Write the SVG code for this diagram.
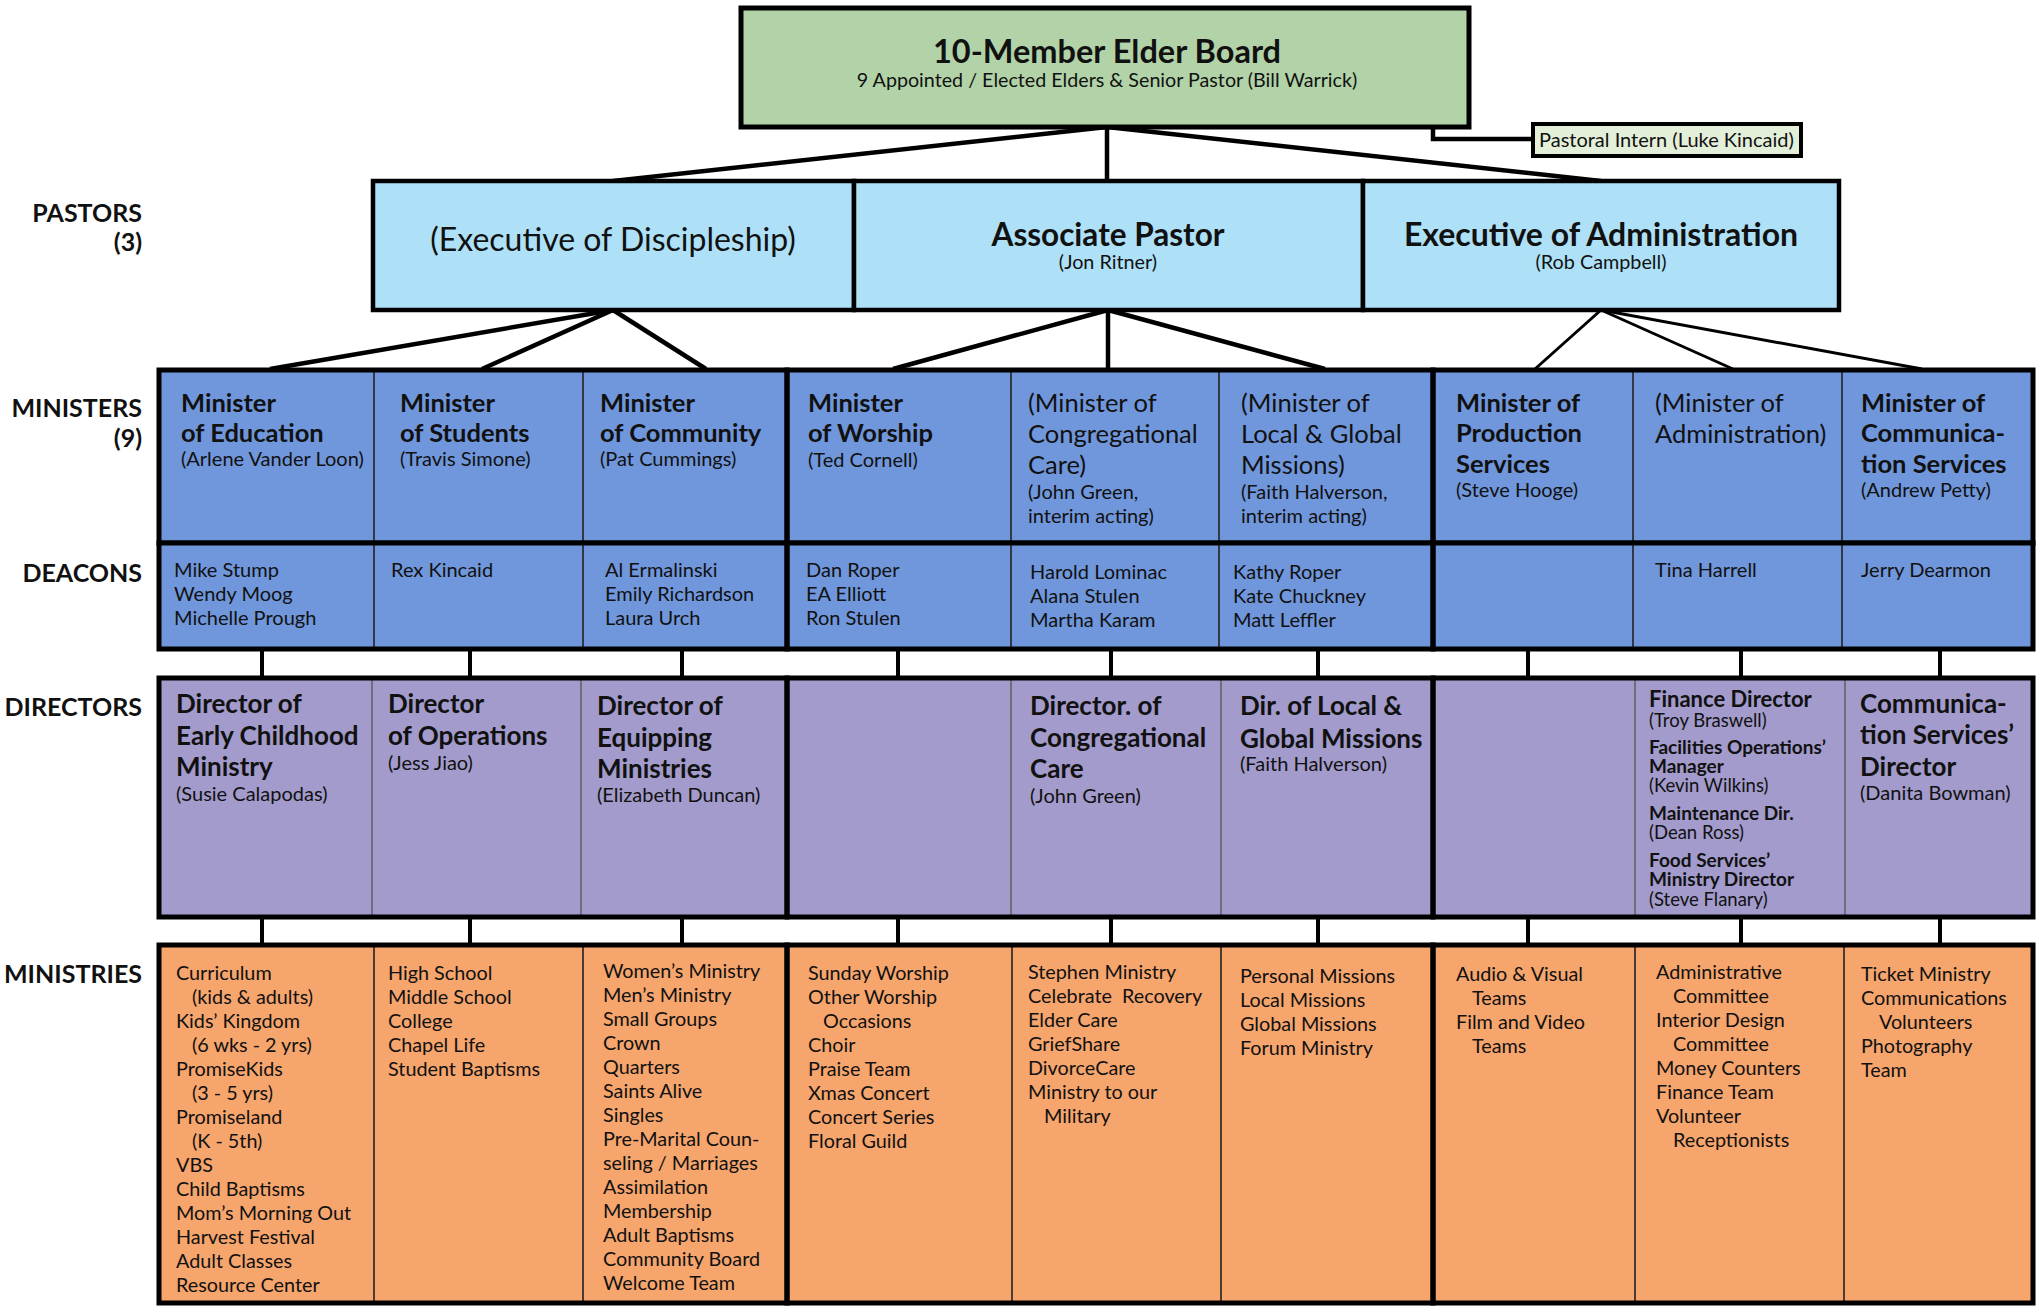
<svg xmlns="http://www.w3.org/2000/svg" width="2039" height="1307" viewBox="0 0 2039 1307">
<style>
text{font-family:Lato,"Open Sans","Liberation Sans",sans-serif;fill:#111}
.lbl{font-weight:bold;font-size:25px;text-anchor:end}
.b{font-weight:bold;font-size:25.5px}
.bd{font-weight:bold;font-size:26px}
.s{font-size:20px}
.r{font-size:25.5px}
.d{font-size:20px}
.m{font-size:19.8px}
.fb{font-weight:bold;font-size:19px}
.fs{font-size:18.5px}
.thick{fill:none;stroke:#000;stroke-width:5}
.thin{stroke:#222;stroke-width:1.6}
.thinD{stroke:#555;stroke-width:1.3}
.con{stroke:#000;stroke-width:4.5;fill:none}
.con2{stroke:#000;stroke-width:3;fill:none}
.tick{stroke:#000;stroke-width:4}
</style>
<rect width="2039" height="1307" fill="#fff"/>

<g id="row-labels">
<text class="lbl" x="142" y="222">PASTORS</text>
<text class="lbl" x="142" y="251">(3)</text>
<text class="lbl" x="142" y="417">MINISTERS</text>
<text class="lbl" x="142" y="447">(9)</text>
<text class="lbl" x="142" y="582">DEACONS</text>
<text class="lbl" x="142" y="716">DIRECTORS</text>
<text class="lbl" x="142" y="983">MINISTRIES</text>
</g>

<g id="connectors">
<line class="con" x1="1107" y1="127" x2="613" y2="181"/>
<line class="con" x1="1107" y1="127" x2="1107" y2="181"/>
<line class="con" x1="1107" y1="127" x2="1601" y2="181"/>
<polyline class="con" points="1433,127 1433,139 1533,139"/>
<line class="con" x1="613" y1="310" x2="270" y2="369"/>
<line class="con" x1="613" y1="310" x2="482" y2="369"/>
<line class="con" x1="613" y1="310" x2="706" y2="369"/>
<line class="con" x1="1108" y1="310" x2="893" y2="369"/>
<line class="con" x1="1108" y1="310" x2="1108" y2="369"/>
<line class="con" x1="1108" y1="310" x2="1325" y2="369"/>
<line class="con2" x1="1601" y1="310" x2="1535" y2="369"/>
<line class="con2" x1="1601" y1="310" x2="1733" y2="369"/>
<line class="con2" x1="1601" y1="310" x2="1922" y2="369"/>
<g class="tick">
<line x1="262" y1="649" x2="262" y2="678"/><line x1="470" y1="649" x2="470" y2="678"/><line x1="682" y1="649" x2="682" y2="678"/>
<line x1="898" y1="649" x2="898" y2="678"/><line x1="1111" y1="649" x2="1111" y2="678"/><line x1="1318" y1="649" x2="1318" y2="678"/>
<line x1="1528" y1="649" x2="1528" y2="678"/><line x1="1741" y1="649" x2="1741" y2="678"/><line x1="1940" y1="649" x2="1940" y2="678"/>
<line x1="262" y1="917" x2="262" y2="945"/><line x1="470" y1="917" x2="470" y2="945"/><line x1="682" y1="917" x2="682" y2="945"/>
<line x1="898" y1="917" x2="898" y2="945"/><line x1="1111" y1="917" x2="1111" y2="945"/><line x1="1318" y1="917" x2="1318" y2="945"/>
<line x1="1528" y1="917" x2="1528" y2="945"/><line x1="1741" y1="917" x2="1741" y2="945"/><line x1="1940" y1="917" x2="1940" y2="945"/>
</g>
</g>

<g id="elder-board">
<rect x="741" y="8" width="728" height="119" fill="#b1d3a7" stroke="#000" stroke-width="5"/>
<text x="1107" y="63" text-anchor="middle" font-weight="bold" font-size="32.5">10-Member Elder Board</text>
<text x="1107" y="87" text-anchor="middle" font-size="19.7">9 Appointed / Elected Elders &amp; Senior Pastor (Bill Warrick)</text>
</g>

<g id="pastoral-intern">
<rect x="1533" y="124" width="268" height="32" fill="#e3efd9" stroke="#000" stroke-width="4"/>
<text x="1539" y="147" font-size="20">Pastoral Intern (Luke Kincaid)</text>
</g>

<g id="pastor-discipleship">
<rect x="373" y="181" width="481" height="129" fill="#aee1f7" stroke="#000" stroke-width="4.5"/>
<text x="613" y="251" text-anchor="middle" font-size="32">(Executive of Discipleship)</text>
</g>
<g id="pastor-associate">
<rect x="854" y="181" width="509" height="129" fill="#aee1f7" stroke="#000" stroke-width="4.5"/>
<text x="1108" y="246" text-anchor="middle" font-weight="bold" font-size="31.5">Associate Pastor</text>
<text x="1108" y="269" text-anchor="middle" font-size="19.8">(Jon Ritner)</text>
</g>
<g id="pastor-administration">
<rect x="1363" y="181" width="476" height="129" fill="#aee1f7" stroke="#000" stroke-width="4.5"/>
<text x="1601" y="246" text-anchor="middle" font-weight="bold" font-size="32">Executive of Administration</text>
<text x="1601" y="269" text-anchor="middle" font-size="19.8">(Rob Campbell)</text>
</g>

<!-- Ministers row -->
<g id="ministers">
<rect x="159" y="370" width="1874" height="173" fill="#7097dc"/>
<g class="thin"><line x1="374" y1="370" x2="374" y2="543"/><line x1="583" y1="370" x2="583" y2="543"/><line x1="1011" y1="370" x2="1011" y2="543"/><line x1="1219" y1="370" x2="1219" y2="543"/><line x1="1633" y1="370" x2="1633" y2="543"/><line x1="1842" y1="370" x2="1842" y2="543"/></g>
<rect class="thick" x="159" y="370" width="628" height="173"/>
<rect class="thick" x="787" y="370" width="646" height="173"/>
<rect class="thick" x="1433" y="370" width="600" height="173"/>
</g>
<g id="min-education"><text x="181" y="412" class="b">Minister</text><text x="181" y="442" class="b">of Education</text><text x="181" y="466" class="s">(Arlene Vander Loon)</text></g>
<g id="min-students"><text x="400" y="412" class="b">Minister</text><text x="400" y="442" class="b">of Students</text><text x="400" y="466" class="s">(Travis Simone)</text></g>
<g id="min-community"><text x="600" y="412" class="b">Minister</text><text x="600" y="442" class="b">of Community</text><text x="600" y="466" class="s">(Pat Cummings)</text></g>
<g id="min-worship"><text x="808" y="412" class="b">Minister</text><text x="808" y="442" class="b">of Worship</text><text x="808" y="467" class="s">(Ted Cornell)</text></g>
<g id="min-congregational"><text x="1028" y="412" class="r">(Minister of</text><text x="1028" y="443" class="r">Congregational</text><text x="1028" y="474" class="r">Care)</text><text x="1028" y="499" class="d">(John Green,</text><text x="1028" y="523" class="d">interim acting)</text></g>
<g id="min-missions"><text x="1241" y="412" class="r">(Minister of</text><text x="1241" y="443" class="r">Local &amp; Global</text><text x="1241" y="474" class="r">Missions)</text><text x="1241" y="499" class="d">(Faith Halverson,</text><text x="1241" y="523" class="d">interim acting)</text></g>
<g id="min-production"><text x="1456" y="412" class="b">Minister of</text><text x="1456" y="442" class="b">Production</text><text x="1456" y="473" class="b">Services</text><text x="1456" y="497" class="s">(Steve Hooge)</text></g>
<g id="min-administration"><text x="1655" y="412" class="r">(Minister of</text><text x="1655" y="443" class="r">Administration)</text></g>
<g id="min-communication"><text x="1861" y="412" class="b">Minister of</text><text x="1861" y="442" class="b">Communica-</text><text x="1861" y="473" class="b">tion Services</text><text x="1861" y="497" class="s">(Andrew Petty)</text></g>

<!-- Deacons row -->
<g id="deacons">
<rect x="159" y="543" width="1874" height="106" fill="#7097dc"/>
<g class="thin"><line x1="374" y1="543" x2="374" y2="649"/><line x1="583" y1="543" x2="583" y2="649"/><line x1="1011" y1="543" x2="1011" y2="649"/><line x1="1219" y1="543" x2="1219" y2="649"/><line x1="1633" y1="543" x2="1633" y2="649"/><line x1="1842" y1="543" x2="1842" y2="649"/></g>
<rect class="thick" x="159" y="543" width="628" height="106"/>
<rect class="thick" x="787" y="543" width="646" height="106"/>
<rect class="thick" x="1433" y="543" width="600" height="106"/>
<text x="174" y="577" class="d">Mike Stump</text><text x="174" y="601" class="d">Wendy Moog</text><text x="174" y="625" class="d">Michelle Prough</text>
<text x="391" y="577" class="d">Rex Kincaid</text>
<text x="605" y="577" class="d">Al Ermalinski</text><text x="605" y="601" class="d">Emily Richardson</text><text x="605" y="625" class="d">Laura Urch</text>
<text x="806" y="577" class="d">Dan Roper</text><text x="806" y="601" class="d">EA Elliott</text><text x="806" y="625" class="d">Ron Stulen</text>
<text x="1030" y="579" class="d">Harold Lominac</text><text x="1030" y="603" class="d">Alana Stulen</text><text x="1030" y="627" class="d">Martha Karam</text>
<text x="1233" y="579" class="d">Kathy Roper</text><text x="1233" y="603" class="d">Kate Chuckney</text><text x="1233" y="627" class="d">Matt Leffler</text>
<text x="1655" y="577" class="d">Tina Harrell</text>
<text x="1861" y="577" class="d">Jerry Dearmon</text>
</g>

<!-- Directors row -->
<g id="directors">
<rect x="159" y="678" width="1874" height="239" fill="#a29bcb"/>
<g class="thinD"><line x1="372" y1="678" x2="372" y2="917"/><line x1="581" y1="678" x2="581" y2="917"/><line x1="1011" y1="678" x2="1011" y2="917"/><line x1="1221" y1="678" x2="1221" y2="917"/><line x1="1635" y1="678" x2="1635" y2="917"/><line x1="1845" y1="678" x2="1845" y2="917"/></g>
<rect class="thick" x="159" y="678" width="628" height="239"/>
<rect class="thick" x="787" y="678" width="646" height="239"/>
<rect class="thick" x="1433" y="678" width="600" height="239"/>
</g>
<g id="dir-early-childhood"><text x="176" y="713" class="bd">Director of</text><text x="176" y="745" class="bd">Early Childhood</text><text x="176" y="776" class="bd">Ministry</text><text x="176" y="801" class="s">(Susie Calapodas)</text></g>
<g id="dir-operations"><text x="388" y="713" class="bd">Director</text><text x="388" y="745" class="bd">of Operations</text><text x="388" y="770" class="s">(Jess Jiao)</text></g>
<g id="dir-equipping"><text x="597" y="715" class="bd">Director of</text><text x="597" y="747" class="bd">Equipping</text><text x="597" y="778" class="bd">Ministries</text><text x="597" y="802" class="s">(Elizabeth Duncan)</text></g>
<g id="dir-congregational"><text x="1030" y="715" class="bd">Director. of</text><text x="1030" y="747" class="bd">Congregational</text><text x="1030" y="778" class="bd">Care</text><text x="1030" y="803" class="s">(John Green)</text></g>
<g id="dir-missions"><text x="1240" y="715" class="bd">Dir. of Local &amp;</text><text x="1240" y="748" class="bd">Global Missions</text><text x="1240" y="771" class="s">(Faith Halverson)</text></g>
<g id="dir-finance">
<text x="1649" y="707" font-weight="bold" font-size="22">Finance Director</text>
<text x="1649" y="727" class="fs">(Troy Braswell)</text>
<text x="1649" y="754" class="fb">Facilities Operations’</text>
<text x="1649" y="773" class="fb">Manager</text>
<text x="1649" y="792" class="fs">(Kevin Wilkins)</text>
<text x="1649" y="820" class="fb">Maintenance Dir.</text>
<text x="1649" y="839" class="fs">(Dean Ross)</text>
<text x="1649" y="867" class="fb">Food Services’</text>
<text x="1649" y="886" class="fb">Ministry Director</text>
<text x="1649" y="906" class="fs">(Steve Flanary)</text>
</g>
<g id="dir-communication"><text x="1860" y="713" class="bd">Communica-</text><text x="1860" y="744" class="bd">tion Services’</text><text x="1860" y="776" class="bd">Director</text><text x="1860" y="800" class="s">(Danita Bowman)</text></g>

<!-- Ministries row -->
<g id="ministries">
<rect x="159" y="945" width="1874" height="358" fill="#f6a56d"/>
<g class="thin"><line x1="374" y1="945" x2="374" y2="1303"/><line x1="583" y1="945" x2="583" y2="1303"/><line x1="1012" y1="945" x2="1012" y2="1303"/><line x1="1221" y1="945" x2="1221" y2="1303"/><line x1="1635" y1="945" x2="1635" y2="1303"/><line x1="1844" y1="945" x2="1844" y2="1303"/></g>
<rect class="thick" x="159" y="945" width="628" height="358"/>
<rect class="thick" x="787" y="945" width="646" height="358"/>
<rect class="thick" x="1433" y="945" width="600" height="358"/>
</g>
<g id="mins-education">
<text class="m" x="176" y="980">Curriculum</text><text class="m" x="192" y="1004">(kids &amp; adults)</text>
<text class="m" x="176" y="1028">Kids’ Kingdom</text><text class="m" x="192" y="1052">(6 wks - 2 yrs)</text>
<text class="m" x="176" y="1076">PromiseKids</text><text class="m" x="192" y="1100">(3 - 5 yrs)</text>
<text class="m" x="176" y="1124">Promiseland</text><text class="m" x="192" y="1148">(K - 5th)</text>
<text class="m" x="176" y="1172">VBS</text><text class="m" x="176" y="1196">Child Baptisms</text>
<text class="m" x="176" y="1220">Mom’s Morning Out</text><text class="m" x="176" y="1244">Harvest Festival</text>
<text class="m" x="176" y="1268">Adult Classes</text><text class="m" x="176" y="1292">Resource Center</text>
</g>
<g id="mins-students">
<text class="m" x="388" y="980">High School</text><text class="m" x="388" y="1004">Middle School</text><text class="m" x="388" y="1028">College</text><text class="m" x="388" y="1052">Chapel Life</text><text class="m" x="388" y="1076">Student Baptisms</text>
</g>
<g id="mins-community">
<text class="m" x="603" y="978">Women’s Ministry</text><text class="m" x="603" y="1002">Men’s Ministry</text><text class="m" x="603" y="1026">Small Groups</text><text class="m" x="603" y="1050">Crown</text><text class="m" x="603" y="1074">Quarters</text><text class="m" x="603" y="1098">Saints Alive</text><text class="m" x="603" y="1122">Singles</text><text class="m" x="603" y="1146">Pre-Marital Coun-</text><text class="m" x="603" y="1170">seling / Marriages</text><text class="m" x="603" y="1194">Assimilation</text><text class="m" x="603" y="1218">Membership</text><text class="m" x="603" y="1242">Adult Baptisms</text><text class="m" x="603" y="1266">Community Board</text><text class="m" x="603" y="1290">Welcome Team</text>
</g>
<g id="mins-worship">
<text class="m" x="808" y="980">Sunday Worship</text><text class="m" x="808" y="1004">Other Worship</text><text class="m" x="823" y="1028">Occasions</text><text class="m" x="808" y="1052">Choir</text><text class="m" x="808" y="1076">Praise Team</text><text class="m" x="808" y="1100">Xmas Concert</text><text class="m" x="808" y="1124">Concert Series</text><text class="m" x="808" y="1148">Floral Guild</text>
</g>
<g id="mins-care">
<text class="m" x="1028" y="979">Stephen Ministry</text><text class="m" x="1028" y="1003" xml:space="preserve">Celebrate  Recovery</text><text class="m" x="1028" y="1027">Elder Care</text><text class="m" x="1028" y="1051">GriefShare</text><text class="m" x="1028" y="1075">DivorceCare</text><text class="m" x="1028" y="1099">Ministry to our</text><text class="m" x="1044" y="1123">Military</text>
</g>
<g id="mins-missions">
<text class="m" x="1240" y="983">Personal Missions</text><text class="m" x="1240" y="1007">Local Missions</text><text class="m" x="1240" y="1031">Global Missions</text><text class="m" x="1240" y="1055">Forum Ministry</text>
</g>
<g id="mins-production">
<text class="m" x="1456" y="981">Audio &amp; Visual</text><text class="m" x="1472" y="1005">Teams</text><text class="m" x="1456" y="1029">Film and Video</text><text class="m" x="1472" y="1053">Teams</text>
</g>
<g id="mins-administration">
<text class="m" x="1656" y="979">Administrative</text><text class="m" x="1673" y="1003">Committee</text><text class="m" x="1656" y="1027">Interior Design</text><text class="m" x="1673" y="1051">Committee</text><text class="m" x="1656" y="1075">Money Counters</text><text class="m" x="1656" y="1099">Finance Team</text><text class="m" x="1656" y="1123">Volunteer</text><text class="m" x="1673" y="1147">Receptionists</text>
</g>
<g id="mins-communication">
<text class="m" x="1861" y="981">Ticket Ministry</text><text class="m" x="1861" y="1005">Communications</text><text class="m" x="1879" y="1029">Volunteers</text><text class="m" x="1861" y="1053">Photography</text><text class="m" x="1861" y="1077">Team</text>
</g>
</svg>
